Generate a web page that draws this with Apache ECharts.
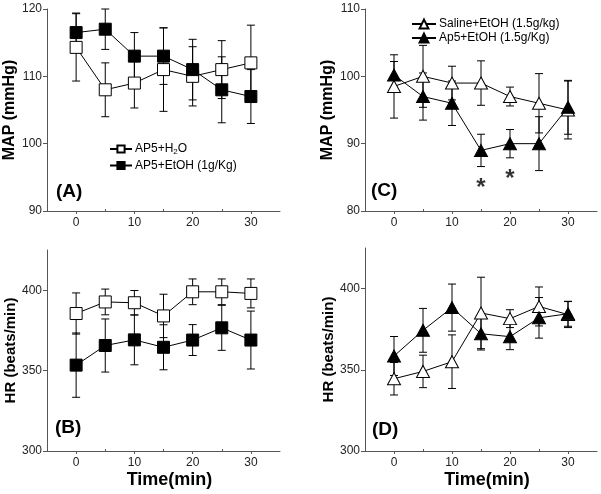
<!DOCTYPE html>
<html>
<head>
<meta charset="utf-8">
<script src="https://cdn.jsdelivr.net/npm/echarts@6/dist/echarts.min.js"></script>
<style>html,body{margin:0;padding:0;background:#fff;}#c{width:601px;height:494px;}</style>
</head>
<body>
<div id="c"></div>
<script>
// ---- data ----
const timeMin = [0, 5, 10, 15, 20, 25, 30];
const xTickLabels = [0, 10, 20, 30];
const xMinorTicks = [5, 15, 25];

// Panel A: MAP (mmHg)
const ap5H2O_MAP = [114.3, 108, 109, 111, 110, 111, 112];
const ap5H2O_MAP_err = [5, 4, 3.7, 6.2, 4.4, 4.3, 5.6];
const ap5EtOH1_MAP = [116.5, 117, 113, 113, 111, 108, 107];
const ap5EtOH1_MAP_err = [2.9, 3, 3.5, 4.2, 4.5, 4.9, 4];

// Panel B: HR (beats/min)
const ap5H2O_HR = [385.5, 392.7, 392.2, 384, 399, 399, 398];
const ap5H2O_HR_err = [12.8, 8, 7.6, 13.5, 8, 8, 9];
const ap5EtOH1_HR = [353.4, 365.6, 369.1, 364.5, 369, 376.6, 369];
const ap5EtOH1_HR_err = [20, 16.5, 15.5, 14, 9.6, 14, 18];

// Panel C: MAP (mmHg)
const salineEtOH_MAP = [98.5, 100, 99, 99, 97, 96, 95];
const salineEtOH_MAP_err = [4.7, 4.6, 2.5, 3.3, 1.4, 4.4, 4.3];
const ap5EtOH15_MAP = [100.2, 97, 96, 89, 90, 90, 95.4];
const ap5EtOH15_MAP_err = [2, 3.5, 3.3, 2.4, 2.1, 4, 4];
const sigMarks = [[15, 84.4], [20, 85.8]];

// Panel D: HR (beats/min)
const salineEtOH_HR = [344.5, 349, 355, 385, 381.5, 389, 384];
const salineEtOH_HR_err = [10, 10, 16.5, 22, 5.5, 12, 8];
const ap5EtOH15_HR = [358.5, 374.3, 388.3, 372.2, 370.4, 382, 384.5];
const ap5EtOH15_HR_err = [12, 13.5, 14.5, 10, 8, 12.5, 7.7];

const mapTicksA = [90, 100, 110, 120];
const mapTicksC = [80, 90, 100, 110];
const hrTicks = [300, 350, 400];

const N_H2O = 'AP5+H2O';
const N_E1 = 'AP5+EtOH (1g/Kg)';
const N_SAL = 'Saline+EtOH (1.5g/kg)';
const N_E15 = 'Ap5+EtOH (1.5g/Kg)';

// ---- chart ----
const chart = echarts.init(document.getElementById('c'), null, {renderer: 'canvas'});
const AX = '#555';
const FONT = 'Liberation Sans, Arial, sans-serif';

const grids = [
  {left: 47, top: 9, width: 233, height: 202},
  {left: 47, top: 250, width: 233, height: 201},
  {left: 365, top: 9, width: 232, height: 202},
  {left: 365, top: 248, width: 232, height: 203}
];

function xAxes(gi, withName) {
  return [{
    type: 'value', gridIndex: gi, min: -5, max: 35, interval: 5,
    axisLine: {show: true, onZero: false, lineStyle: {color: AX, width: 1}},
    axisTick: {show: true, customValues: xTickLabels, length: 3, lineStyle: {color: AX}},
    axisLabel: {customValues: xTickLabels, color: '#222', fontSize: 12, fontFamily: FONT, margin: 6},
    splitLine: {show: false},
    name: withName ? 'Time(min)' : '',
    nameLocation: 'middle', nameGap: 20,
    nameTextStyle: {fontSize: 18, fontWeight: 'bold', color: '#000', fontFamily: FONT, padding: [0, 0, 0, 12]}
  }, {
    type: 'value', gridIndex: gi, min: -5, max: 35, interval: 5, position: 'bottom',
    axisLine: {show: false, onZero: false},
    axisTick: {show: true, inside: true, customValues: xMinorTicks, length: 2, lineStyle: {color: AX}},
    axisLabel: {show: false},
    splitLine: {show: false}
  }];
}
function yAxis(gi, min, max, ticks, name, fs) {
  return {
    type: 'value', gridIndex: gi, min: min, max: max, interval: ticks[1] - ticks[0],
    axisLine: {show: true, onZero: false, lineStyle: {color: AX, width: 1}},
    axisTick: {show: true, customValues: ticks, length: 4, lineStyle: {color: AX}},
    axisLabel: {customValues: ticks, color: '#222', fontSize: 12, fontFamily: FONT, margin: 5},
    splitLine: {show: false},
    name: name, nameLocation: 'middle', nameGap: 27, nameRotate: 90,
    nameTextStyle: {fontSize: fs, fontWeight: 'bold', color: '#000', fontFamily: FONT}
  };
}

function errData(v, e) { return timeMin.map((t, i) => [t, v[i] - e[i], v[i] + e[i]]); }
function errRender(params, api) {
  const x = api.value(0);
  const lo = api.coord([x, api.value(1)]);
  const hi = api.coord([x, api.value(2)]);
  const w = 4;
  const st = {stroke: '#000', lineWidth: 1};
  return {type: 'group', children: [
    {type: 'line', shape: {x1: lo[0], y1: lo[1], x2: hi[0], y2: hi[1]}, style: st},
    {type: 'line', shape: {x1: hi[0] - w, y1: hi[1], x2: hi[0] + w, y2: hi[1]}, style: st},
    {type: 'line', shape: {x1: lo[0] - w, y1: lo[1], x2: lo[0] + w, y2: lo[1]}, style: st}
  ]};
}
function errSeries(xi, yi, v, e) {
  return {type: 'custom', xAxisIndex: xi, yAxisIndex: yi, renderItem: errRender,
    data: errData(v, e), z: 1, silent: true, clip: false};
}
function lineSeries(name, xi, yi, v, symbol, size, filled) {
  return {
    type: 'line', name: name, xAxisIndex: xi, yAxisIndex: yi,
    data: timeMin.map((t, i) => [t, v[i]]),
    symbol: symbol, symbolSize: size, showAllSymbol: true,
    lineStyle: {color: '#000', width: 1},
    itemStyle: {color: filled ? '#000' : '#fff', borderColor: '#000', borderWidth: 1},
    emphasis: {disabled: true}, z: 3, clip: false
  };
}

const SQ = 12, TRI = [13, 12];

const option = {
  animation: false,
  backgroundColor: '#fff',
  grid: grids,
  xAxis: [].concat(xAxes(0, false), xAxes(1, true), xAxes(2, false), xAxes(3, true)),
  yAxis: [
    yAxis(0, 90, 120, mapTicksA, 'MAP (mmHg)', 16),
    yAxis(1, 300, 425, hrTicks, 'HR (beats/min)', 15),
    yAxis(2, 80, 110, mapTicksC, 'MAP (mmHg)', 16),
    yAxis(3, 300, 425, hrTicks, 'HR (beats/min)', 15)
  ],
  legend: [{
    data: [N_H2O, N_E1], orient: 'vertical', left: 104, top: 138,
    itemWidth: 22, itemHeight: 9, itemGap: 4, selectedMode: false,
    formatter: function (n) { return n === N_H2O ? 'AP5+H{sub|2}O' : n; },
    textStyle: {fontSize: 12, color: '#000', fontFamily: FONT, padding: [0, 0, 0, -2],
      rich: {sub: {fontSize: 8, verticalAlign: 'bottom', padding: [5, 0, 0, 0], fontFamily: FONT, color: '#000'}}}
  }, {
    data: [N_SAL, N_E15], orient: 'vertical', left: 406, top: 13,
    itemWidth: 24, itemHeight: 11, itemGap: 2, selectedMode: false,
    textStyle: {fontSize: 12, color: '#000', fontFamily: FONT, padding: [0, 0, 0, -2]}
  }],
  series: [
    errSeries(0, 0, ap5H2O_MAP, ap5H2O_MAP_err),
    errSeries(0, 0, ap5EtOH1_MAP, ap5EtOH1_MAP_err),
    lineSeries(N_H2O, 0, 0, ap5H2O_MAP, 'rect', SQ, false),
    lineSeries(N_E1, 0, 0, ap5EtOH1_MAP, 'rect', SQ, true),

    errSeries(2, 1, ap5H2O_HR, ap5H2O_HR_err),
    errSeries(2, 1, ap5EtOH1_HR, ap5EtOH1_HR_err),
    lineSeries(N_H2O, 2, 1, ap5H2O_HR, 'rect', SQ, false),
    lineSeries(N_E1, 2, 1, ap5EtOH1_HR, 'rect', SQ, true),

    errSeries(4, 2, salineEtOH_MAP, salineEtOH_MAP_err),
    errSeries(4, 2, ap5EtOH15_MAP, ap5EtOH15_MAP_err),
    lineSeries(N_SAL, 4, 2, salineEtOH_MAP, 'triangle', TRI, false),
    lineSeries(N_E15, 4, 2, ap5EtOH15_MAP, 'triangle', TRI, true),
    {
      type: 'scatter', xAxisIndex: 4, yAxisIndex: 2, data: sigMarks,
      symbolSize: 2, itemStyle: {color: 'rgba(0,0,0,0)'}, silent: true, z: 5,
      label: {show: true, position: 'inside', offset: [0, 7], formatter: '*', fontSize: 24, fontWeight: 'bold',
        color: '#000', fontFamily: FONT}
    },

    errSeries(6, 3, salineEtOH_HR, salineEtOH_HR_err),
    errSeries(6, 3, ap5EtOH15_HR, ap5EtOH15_HR_err),
    lineSeries(N_SAL, 6, 3, salineEtOH_HR, 'triangle', TRI, false),
    lineSeries(N_E15, 6, 3, ap5EtOH15_HR, 'triangle', TRI, true)
  ],
  graphic: [
    {type: 'text', left: 56, top: 182, style: {text: '(A)', fill: '#000', font: 'bold 19px Liberation Sans, Arial'}},
    {type: 'text', left: 55, top: 418, style: {text: '(B)', fill: '#000', font: 'bold 19px Liberation Sans, Arial'}},
    {type: 'text', left: 371, top: 181, style: {text: '(C)', fill: '#000', font: 'bold 19px Liberation Sans, Arial'}},
    {type: 'text', left: 372, top: 420, style: {text: '(D)', fill: '#000', font: 'bold 19px Liberation Sans, Arial'}}
  ]
};
chart.setOption(option);
</script>
</body>
</html>
